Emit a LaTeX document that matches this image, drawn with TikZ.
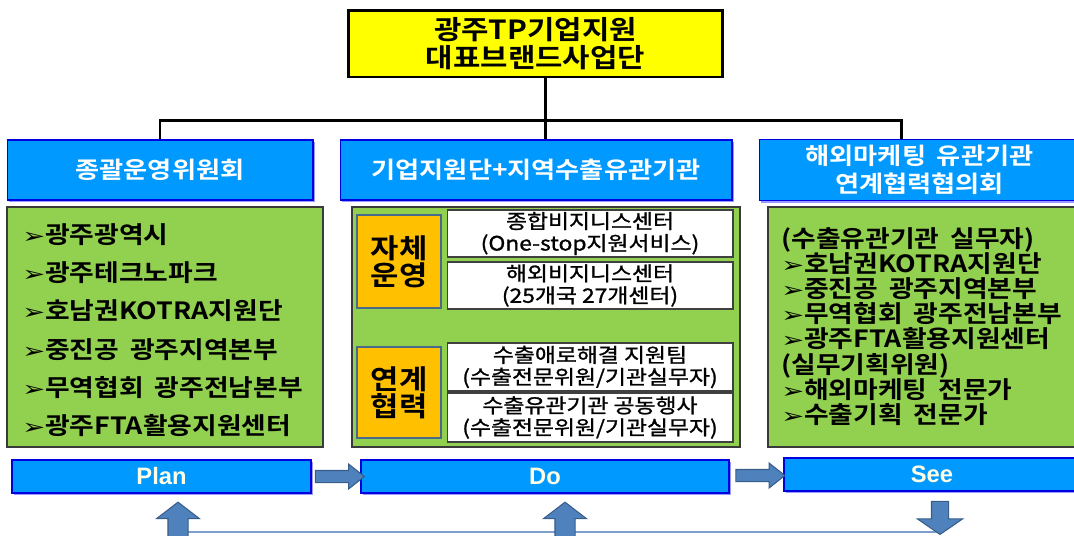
\documentclass[tikz,border=0pt]{standalone}
\usepackage{fontspec}
\setmainfont{Noto Sans CJK KR}[BoldFont={Noto Sans CJK KR Bold}, FakeStretch=1.13, WordSpace=1.8]
\newfontfamily\latinfont{Liberation Sans}
\newfontfamily\symfont{DejaVu Sans}
\newfontfamily\widefont{Noto Sans CJK KR}[FakeStretch=1.15, FakeBold=1.2]
\usetikzlibrary{shapes.arrows,shadows,calc,backgrounds}
\definecolor{titleyellow}{HTML}{FFFF00}
\definecolor{hdrblue}{HTML}{0099FF}
\definecolor{hdrline}{HTML}{0000E0}
\definecolor{shadowblue}{HTML}{9999FF}
\definecolor{panelgreen}{HTML}{92D050}
\definecolor{grnline}{HTML}{3A3A3A}
\definecolor{boxorange}{HTML}{FFC000}
\definecolor{orgline}{HTML}{4A6A8C}
\definecolor{boxline}{HTML}{404040}
\definecolor{barwhite}{HTML}{FFFFE8}
\definecolor{arrowblue}{HTML}{4F81BD}
\definecolor{arrowline}{HTML}{385D8A}
\definecolor{fbblue}{HTML}{7F9ECB}
\newcommand{\itm}{\scalebox{1.3}[1]{\symfont\fontsize{12}{12}\selectfont\char"27A2}}
\begin{document}
\begin{tikzpicture}[x=0.02cm, y=-0.02cm,
  ttl/.style={draw=black, line width=1.7pt, fill=titleyellow, minimum width=7.5cm, minimum height=1.34cm, align=center, font=\bfseries\fontsize{15}{16}\selectfont},
  tree/.style={line width=1.7pt, black},
  hdr/.style={draw=hdrline, fill=hdrblue, line width=0.6pt, text=white, align=center, minimum height=1.2cm, font=\bfseries\fontsize{13.2}{16}\selectfont, drop shadow={shadow xshift=1.3pt, shadow yshift=-1.3pt, fill=shadowblue, opacity=1}},
  grn/.style={draw=grnline, fill=panelgreen, line width=0.8pt, minimum height=4.8cm},
  lst/.style={align=left, inner sep=0pt, anchor=west},
  org/.style={draw=orgline, fill=boxorange, line width=1.2pt, minimum width=1.68cm, align=center, font=\bfseries\fontsize{15.5}{15.3}\selectfont},
  wbox/.style={draw=boxline, fill=white, line width=0.6pt, minimum width=5.72cm, inner sep=0pt, align=center, font=\widefont\fontsize{11.3}{12.5}\selectfont},
  bar/.style={draw=hdrline, fill=hdrblue, line width=0.8pt, minimum height=0.66cm, text=barwhite, font=\latinfont\bfseries\fontsize{13.5}{14}\selectfont, drop shadow={shadow xshift=1.3pt, shadow yshift=-1.3pt, fill=shadowblue, opacity=1}},
  flow/.style={single arrow, draw=arrowline, fill=arrowblue, line width=0.6pt, inner sep=0.11cm, single arrow head extend=0.13cm, single arrow tip angle=77, minimum height=0.98cm},
  loop/.style={single arrow, draw=arrowline, fill=arrowblue, line width=0.6pt, inner sep=0.19cm, single arrow head extend=0.23cm, single arrow tip angle=105, minimum height=0.8cm, shape border rotate=90},
  fbline/.style={draw=fbblue, line width=1pt}]
  \useasboundingbox (0,0) rectangle (1074,535);
  \clip (0,0) rectangle (1074,535);

  \node[ttl] (title) at (535.5,43.5) {광주TP기업지원\\대표브랜드사업단};

  \node[hdr, minimum width=6.12cm] (orgHead) at (160,170) {종괄운영위원회};
  \node[hdr, minimum width=7.84cm] (supHead) at (536,170) {기업지원단+지역수출유관기관};
  \node[hdr, minimum width=6.42cm] (mktHead) at (919.5,170) {해외마케팅 유관기관\\연계협력협의회};

  \coordinate (bus) at (545,120);
  \coordinate (busR) at (901,120);
  \draw[tree] (title.south -| bus) -- (supHead.north -| bus);
  \draw[tree] (orgHead.north) |- (busR) -- (busR |- mktHead.north);

  \node[grn, minimum width=6.32cm] (orgPanel) at (165,327) {};
  \node[grn, minimum width=7.76cm] (supPanel) at (546,327) {};
  \node[grn, minimum width=6.24cm] (mktPanel) at (924,327) {};

  \node[lst, font=\bfseries\fontsize{13.5}{21.8}\selectfont] (orgList) at (22,330)
    {\itm 광주광역시\\\itm 광주테크노파크\\\itm 호남권KOTRA지원단\\\itm 중진공 광주지역본부\\\itm 무역협회 광주전남본부\\\itm 광주FTA활용지원센터};
  \node[lst, font=\bfseries\fontsize{13.5}{14.3}\selectfont] (mktList) at (781,326.5)
    {(수출유관기관 실무자)\\\itm 호남권KOTRA지원단\\\itm 중진공 광주지역본부\\\itm 무역협회 광주전남본부\\\itm 광주FTA활용지원센터\\(실무기획위원)\\\itm 해외마케팅 전문가\\\itm 수출기획 전문가};

  \node[org, minimum height=1.86cm] (selfOp) at (399,261.5) {자체\\운영};
  \node[org, minimum height=1.82cm] (linkCo) at (399,392.5) {연계\\협력};

  \node[wbox, minimum height=0.94cm] (bizCtr) at (590,233.5) {종합비지니스센터\\(One-stop지원서비스)};
  \node[wbox, minimum height=0.94cm] (ovsCtr) at (590,285.5) {해외비지니스센터\\(25개국 27개센터)};
  \node[wbox, minimum height=0.96cm] (expTeam) at (590,367) {수출애로해결 지원팀\\(수출전문위원/기관실무자)};
  \node[wbox, minimum height=0.98cm] (jointEv) at (590,417.5) {수출유관기관 공동행사\\(수출전문위원/기관실무자)};

  \node[bar, minimum width=5.98cm] (plan) at (161.5,476.5) {Plan};
  \node[bar, minimum width=7.36cm] (do) at (545,476.5) {Do};
  \node[bar, minimum width=5.92cm] (see) at (932,474.5) {See};

  \node[flow] (planDo) at ($(plan.east)!0.5!(do.west)$) {};
  \node[flow] (doSee) at ($(do.east)!0.5!(see.west)$) {};

  \node[loop] (fbPlan) at (178,526) {};
  \node[loop] (fbDo) at (565,526) {};
  \node[loop, shape border rotate=270, inner sep=0.16cm, single arrow head extend=0.28cm, single arrow tip angle=111, minimum height=0.66cm] (fbSee) at (940,515) {};
  \coordinate (fbBase) at (0,532);
  \begin{scope}[on background layer]
    \draw[fbline] (fbPlan |- fbBase) -- (fbSee |- fbBase);
  \end{scope}
\end{tikzpicture}
\end{document}
